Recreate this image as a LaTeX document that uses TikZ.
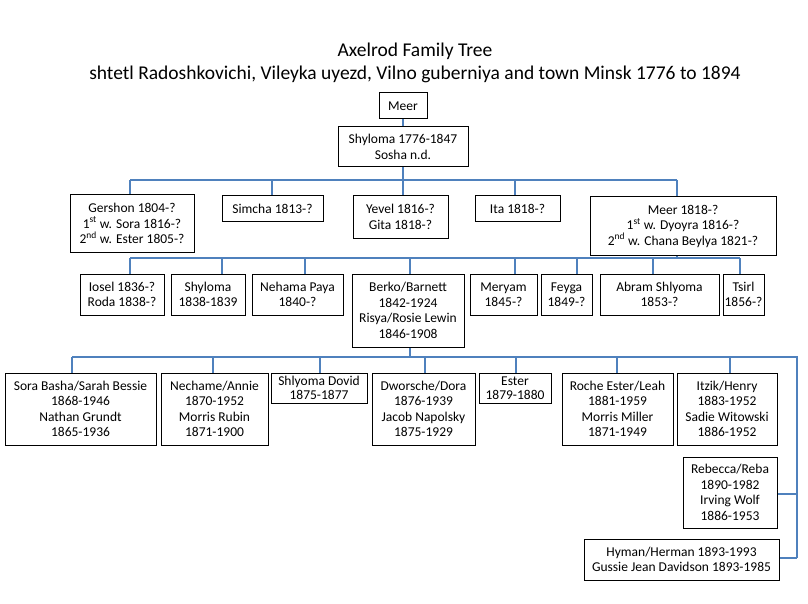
\documentclass[tikz,border=0pt]{standalone}
\usepackage{fontspec}
\setmainfont{Carlito}
\definecolor{linkblue}{RGB}{79,129,189}
\tikzset{
  person/.style={draw=black, line width=1pt, align=center, inner sep=0pt, font=\fontsize{13.5}{15.5}\selectfont},
  link/.style={draw=linkblue, line width=2.5pt}
}
\begin{document}
\begin{tikzpicture}[x=1pt,y=-1pt]
\useasboundingbox (0,0) rectangle (808,604);
\node[font=\fontsize{19.5}{23}\selectfont, align=center] (title) at (415,63) {Axelrod Family Tree\\shtetl Radoshkovichi, Vileyka uyezd, Vilno guberniya and town Minsk 1776 to 1894};
% generations 1 and 2
\node[person, minimum width=48, minimum height=26] (meer0) at (403,106) {Meer};
\node[person, minimum width=130, minimum height=40] (shyloma0) at (403,147) {Shyloma 1776-1847\\Sosha n.d.};
% generation 3
\node[person, minimum width=124, minimum height=57] (gershon) at (132,223.5) {Gershon 1804-?\\1\textsuperscript{st} w. Sora 1816-?\\2\textsuperscript{nd} w. Ester 1805-?};
\node[person, minimum width=101, minimum height=25] (simcha) at (272.5,208.5) {Simcha 1813-?};
\node[person, minimum width=95, minimum height=42] (yevel) at (400.5,217) {Yevel 1816-?\\Gita 1818-?};
\node[person, minimum width=85, minimum height=25] (ita) at (517.5,208.5) {Ita 1818-?};
\node[person, minimum width=186, minimum height=58] (meer1) at (683,226) {Meer 1818-?\\1\textsuperscript{st} w. Dyoyra 1816-?\\2\textsuperscript{nd} w. Chana Beylya 1821-?};
% generation 4
\node[person, minimum width=84, minimum height=41] (iosel) at (122,294.5) {Iosel 1836-?\\Roda 1838-?};
\node[person, minimum width=74, minimum height=41] (shyloma1) at (208,294.5) {Shyloma\\1838-1839};
\node[person, minimum width=91, minimum height=41] (nehama) at (297.5,294.5) {Nehama Paya\\1840-?};
\node[person, minimum width=112, minimum height=73] (berko) at (408,310.5) {Berko/Barnett\\1842-1924\\Risya/Rosie Lewin\\1846-1908};
\node[person, minimum width=67, minimum height=41] (meryam) at (503.5,294.5) {Meryam\\1845-?};
\node[person, minimum width=51, minimum height=41] (feyga) at (566.5,294.5) {Feyga\\1849-?};
\node[person, minimum width=119, minimum height=41] (abram) at (659.5,294.5) {Abram Shlyoma\\1853-?};
\node[person, minimum width=41, minimum height=41] (tsirl) at (743.5,294.5) {Tsirl\\1856-?};
% generation 5
\node[person, minimum width=151, minimum height=72] (sora) at (80.5,409) {Sora Basha/Sarah Bessie\\1868-1946\\Nathan Grundt\\1865-1936};
\node[person, minimum width=107, minimum height=72] (nechame) at (214.5,409) {Nechame/Annie\\1870-1952\\Morris Rubin\\1871-1900};
\node[person, minimum width=96, minimum height=30] (shlyoma) at (319,388) {Shlyoma Dovid\\[-1pt]1875-1877};
\node[person, minimum width=103, minimum height=72] (dworsche) at (423.5,409) {Dworsche/Dora\\1876-1939\\Jacob Napolsky\\1875-1929};
\node[person, minimum width=72, minimum height=30] (ester) at (515,388) {Ester\\[-1pt]1879-1880};
\node[person, minimum width=111, minimum height=72] (roche) at (617.5,409) {Roche Ester/Leah\\1881-1959\\Morris Miller\\1871-1949};
\node[person, minimum width=100, minimum height=72] (itzik) at (727,409) {Itzik/Henry\\1883-1952\\Sadie Witowski\\1886-1952};
\node[person, minimum width=94, minimum height=71] (rebecca) at (730,492.5) {Rebecca/Reba\\1890-1982\\Irving Wolf\\1886-1953};
\node[person, minimum width=195, minimum height=41] (hyman) at (681.5,559.5) {Hyman/Herman 1893-1993\\Gussie Jean Davidson 1893-1985};
% connectors
\coordinate (b1) at (130,180); \coordinate (b1e) at (677,180);
\coordinate (b2) at (130,258); \coordinate (b2e) at (740,258);
\coordinate (b3) at (72,357);  \coordinate (b3e) at (797,357);
\draw[link] (meer0) -- (shyloma0);
\draw[link] (shyloma0) -- (shyloma0 |- b1);
\draw[link] (b1) -- (b1e);
\foreach \n/\x in {gershon/130,simcha/272,yevel/403,ita/515,meer1/677}
  \draw[link] (\x,180) -- (\n.north -| \x,0);
\draw[link] (meer1.south -| 677,0) -- (677,258);
\draw[link] (b2) -- (b2e);
\foreach \n/\x in {iosel/130,shyloma1/222,nehama/305,berko/410,meryam/515,feyga/577,abram/653,tsirl/740}
  \draw[link] (\x,258) -- (\n.north -| \x,0);
\draw[link] (berko.south -| 410,0) -- (410,357);
\draw[link] (b3) -- (b3e) -- (797,558);
\foreach \n/\x in {sora/72,nechame/213,shlyoma/320,dworsche/425,ester/516,roche/617,itzik/730}
  \draw[link] (\x,357) -- (\n.north -| \x,0);
\draw[link] (797,494) -- (rebecca.east |- 0,494);
\draw[link] (797,558) -- (hyman.east |- 0,558);
\end{tikzpicture}
\end{document}
